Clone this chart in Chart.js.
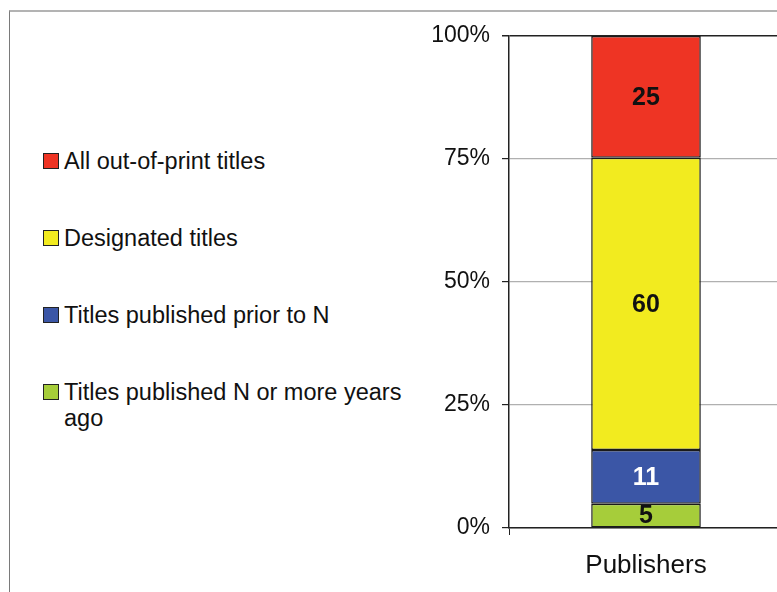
<!DOCTYPE html>
<html>
<head>
<meta charset="utf-8">
<script src="https://cdn.jsdelivr.net/npm/chart.js@4/dist/chart.umd.min.js"></script>
<style>
  html, body { margin: 0; padding: 0; background: #fff; overflow: hidden; }
  body { width: 777px; height: 592px; position: relative; font-family: "Liberation Sans", Arial, sans-serif; }
  #frame { position: absolute; left: 9px; top: 10px; width: 800px; height: 600px;
           border-top: 2px solid #b3b3b3; border-left: 1px solid #7a7a7a; }
  #wrap { position: absolute; left: 420px; top: 0; width: 370px; height: 592px; }
  #legend { position: absolute; left: 43px; top: 148px; width: 368px; }
  .item { display: flex; align-items: flex-start; margin-bottom: 51px; font-size: 23.5px; line-height: 26px; color: #111; }
  .box { width: 14px; height: 14px; border: 1px solid #222; margin-top: 5px; margin-right: 5px; flex: none; }
</style>
</head>
<body>
<div id="frame"></div>
<div id="legend"></div>
<div id="wrap"><canvas id="chart"></canvas></div>
<script>
// 資料
const categories = ['Publishers'];
const seriesNames = ['Titles published N or more years ago', 'Titles published prior to N', 'Designated titles', 'All out-of-print titles'];
const seriesValues = [[5], [11], [60], [25]];
const seriesColors = ['#a6cd3a', '#3b56a6', '#f2eb1f', '#ee3424'];
const labelColors = ['#111', '#fff', '#111', '#111'];
const yTicks = [0, 25, 50, 75, 100];

// 100% 堆疊：每段佔總數的比例
const totals = categories.map((c, i) => seriesValues.reduce((s, v) => s + v[i], 0));

// 圖例（由上而下：反向）
const legendEl = document.getElementById('legend');
seriesNames.slice().reverse().forEach((name, k) => {
  const i = seriesNames.length - 1 - k;
  const row = document.createElement('div');
  row.className = 'item';
  row.innerHTML = '<span class="box" style="background:' + seriesColors[i] + '"></span><span>' + name + '</span>';
  legendEl.appendChild(row);
});

const canvas = document.getElementById('chart');
canvas.width = 370;
canvas.height = 592;

const segmentLabels = {
  id: 'segmentLabels',
  afterDatasetsDraw(chart) {
    const { ctx } = chart;
    ctx.save();
    ctx.font = 'bold 25px "Liberation Sans", Arial, sans-serif';
    ctx.textAlign = 'center';
    ctx.textBaseline = 'middle';
    chart.data.datasets.forEach((ds, di) => {
      chart.getDatasetMeta(di).data.forEach((bar, j) => {
        const p = bar.getProps(['x', 'y', 'base'], true);
        ctx.fillStyle = labelColors[di];
        ctx.fillText(String(ds.raw[j]), p.x, (p.y + p.base) / 2 + 1);
      });
    });
    ctx.restore();
  }
};

new Chart(canvas, {
  type: 'bar',
  data: {
    labels: categories,
    datasets: seriesNames.map((name, i) => ({
      label: name,
      raw: seriesValues[i],
      data: seriesValues[i].map((v, j) => v / totals[j] * 100),
      backgroundColor: seriesColors[i],
      borderColor: '#1a1a1a',
      borderWidth: 1.5,
      borderSkipped: false,
      barPercentage: 0.4,
      categoryPercentage: 1
    }))
  },
  options: {
    responsive: false,
    animation: false,
    layout: { padding: { top: 36, right: 7, bottom: 0, left: 0 } },
    plugins: { legend: { display: false }, tooltip: { enabled: false } },
    scales: {
      x: {
        stacked: true,
        border: { display: true, color: '#222', width: 1.5 },
        grid: { display: true, drawOnChartArea: false, color: '#222', tickLength: 7 },
        ticks: { color: '#111', font: { size: 26, family: '"Liberation Sans", Arial, sans-serif' }, padding: 15 },
        afterFit: s => { s.height = 64; }
      },
      y: {
        stacked: true,
        min: 0,
        max: 100,
        afterBuildTicks: s => { s.ticks = yTicks.map(v => ({ value: v })); },
        border: { display: true, color: '#222', width: 1.5 },
        grid: {
          color: c => (c.tick && c.tick.value === 100) ? '#222' : '#b0b0b0',
          lineWidth: c => (c.tick && c.tick.value === 100) ? 1.5 : 1.2,
          tickColor: '#222',
          tickLength: 7
        },
        ticks: {
          color: '#111',
          padding: 12,
          font: { size: 23, family: '"Liberation Sans", Arial, sans-serif' },
          callback: v => v + '%'
        },
        afterFit: s => { s.width = 89; }
      }
    }
  },
  plugins: [segmentLabels]
});
</script>
</body>
</html>
